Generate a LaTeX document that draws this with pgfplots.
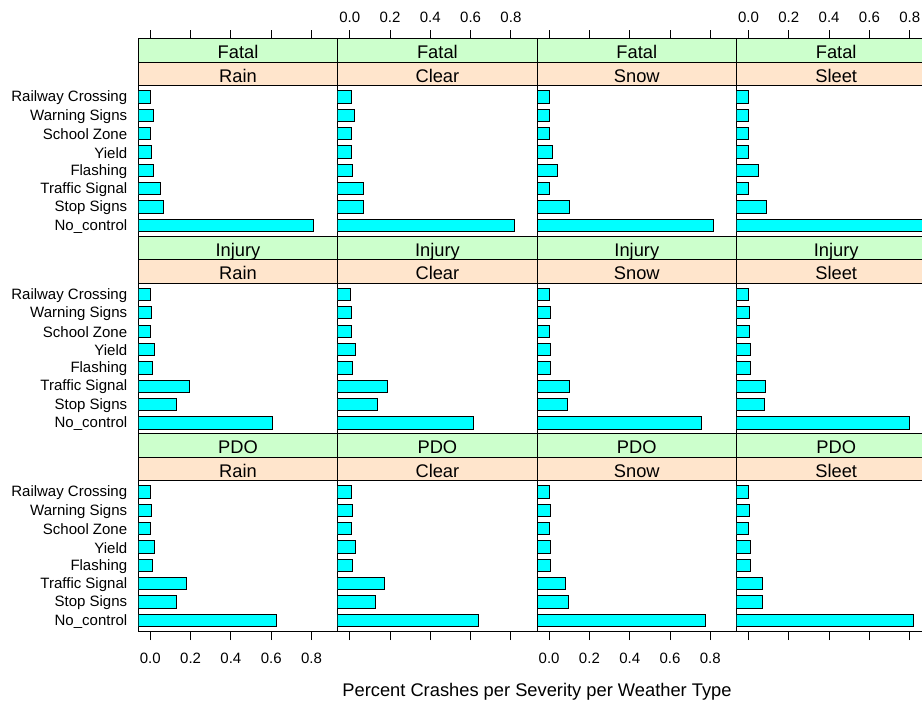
\documentclass[border=0pt]{standalone}
\usepackage{fontspec}
\setmainfont{Liberation Sans}
\usepackage{pgfplots}
\usepackage{pgfplotstable}
\pgfplotsset{compat=1.18}
\definecolor{sgreen}{RGB}{204,255,204}
\definecolor{sorange}{RGB}{255,229,204}
\definecolor{barcyan}{RGB}{0,255,255}
\newcommand\tfnt{\fontsize{7.5}{9}\selectfont}
\newcommand\sfnt{\fontsize{9.15}{11}\selectfont}

% y: 1 No_control, 2 Stop Signs, 3 Traffic Signal, 4 Flashing, 5 Yield, 6 School Zone, 7 Warning Signs, 8 Railway Crossing
\pgfplotstableread{
y Rain Clear Snow Sleet
1 0.811 0.820 0.818 0.890
2 0.065 0.066 0.101 0.089
3 0.053 0.066 0.000 0.000
4 0.018 0.013 0.041 0.048
5 0.007 0.007 0.018 0.000
6 0.000 0.007 0.000 0.000
7 0.018 0.025 0.000 0.000
8 0.000 0.007 0.000 0.000
}\fatal
\pgfplotstableread{
y Rain Clear Snow Sleet
1 0.608 0.613 0.755 0.800
2 0.130 0.137 0.089 0.078
3 0.195 0.190 0.101 0.084
4 0.012 0.012 0.007 0.012
5 0.019 0.031 0.007 0.012
6 0.002 0.007 0.000 0.007
7 0.007 0.007 0.007 0.007
8 0.002 0.002 0.000 0.000
}\injury
\pgfplotstableread{
y Rain Clear Snow Sleet
1 0.625 0.637 0.776 0.820
2 0.130 0.130 0.094 0.071
3 0.178 0.171 0.083 0.071
4 0.012 0.012 0.007 0.012
5 0.019 0.031 0.007 0.012
6 0.002 0.007 0.000 0.000
7 0.007 0.012 0.007 0.007
8 0.002 0.007 0.000 0.000
}\pdo

\pgfplotsset{
  panel/.style={
    scale only axis, width=99.7pt, height=98.75pt, anchor=south west,
    xmin=0, xmax=0.9896, ymin=0.4, ymax=11.161,
    axis line style={line width=0.5pt},
    xtick=\empty, ytick=\empty,
    tick align=outside, major tick length=4.35pt,
    every tick/.style={black, line width=0.5pt},
    tick label style={font=\tfnt},
  },
  topt/.style={xtick={0.0596,0.2596,0.4596,0.6596,0.8596}, xtick pos=right, xticklabel pos=right,
    xticklabel style={yshift=0.5pt}},
  bott/.style={xtick={0.0596,0.2596,0.4596,0.6596,0.8596}, xtick pos=left, xticklabel pos=left,
    xticklabel style={yshift=-3pt}},
  lab/.style={xticklabels={0.0,0.2,0.4,0.6,0.8}},
  nolab/.style={xticklabels={,,,,,}},
  ylab/.style={ytick={1,2,3,4,5,6,7,8}, ytick pos=left,
    yticklabels={No\_control,Stop Signs,Traffic Signal,Flashing,Yield,School Zone,Warning Signs,Railway Crossing},
    ytick style={draw=none}, yticklabel style={inner sep=0pt, xshift=-1pt, yshift=-0.4pt}},
}

\newcommand\panel[6]{%
  \begin{axis}[panel, at={({69.15pt+99.7pt*#1},{233.75pt-98.75pt*#2})}, #6]
    \addplot[xbar, fill=barcyan, draw=black, line width=0.5pt, bar width=0.667]
      table[x expr=\thisrow{#4}+0.0596, y=y]{#3};
  \end{axis}
  \begin{scope}[shift={({69.15pt+99.7pt*#1},{332.5pt-98.75pt*#2})}]
    \draw[fill=sgreen, line width=0.5pt] (0,0) rectangle (99.7pt,-11.75pt);
    \draw[fill=sorange, line width=0.5pt] (0,-11.75pt) rectangle (99.7pt,-23.5pt);
    \node[font=\sfnt, inner sep=0pt, anchor=base] at (49.85pt,-9.975pt) {#5};
    \node[font=\sfnt, inner sep=0pt, anchor=base] at (49.85pt,-21.725pt) {#4};
  \end{scope}
}

\begin{document}
\begin{tikzpicture}
\path[use as bounding box] (0,0) rectangle (461pt,352pt);
\clip (0,0) rectangle (461pt,352pt);
\panel{0}{0}{\fatal}{Rain}{Fatal}{topt,nolab,ylab}
\panel{1}{0}{\fatal}{Clear}{Fatal}{topt,lab}
\panel{2}{0}{\fatal}{Snow}{Fatal}{topt,nolab}
\panel{3}{0}{\fatal}{Sleet}{Fatal}{topt,lab}
\panel{0}{1}{\injury}{Rain}{Injury}{ylab}
\panel{1}{1}{\injury}{Clear}{Injury}{}
\panel{2}{1}{\injury}{Snow}{Injury}{}
\panel{3}{1}{\injury}{Sleet}{Injury}{}
\panel{0}{2}{\pdo}{Rain}{PDO}{bott,lab,ylab}
\panel{1}{2}{\pdo}{Clear}{PDO}{bott,nolab}
\panel{2}{2}{\pdo}{Snow}{PDO}{bott,lab}
\panel{3}{2}{\pdo}{Sleet}{PDO}{bott,nolab}
\node[font=\sfnt, inner sep=0pt] at (268.5pt,6.25pt) {Percent Crashes per Severity per Weather Type};
\end{tikzpicture}
\end{document}
